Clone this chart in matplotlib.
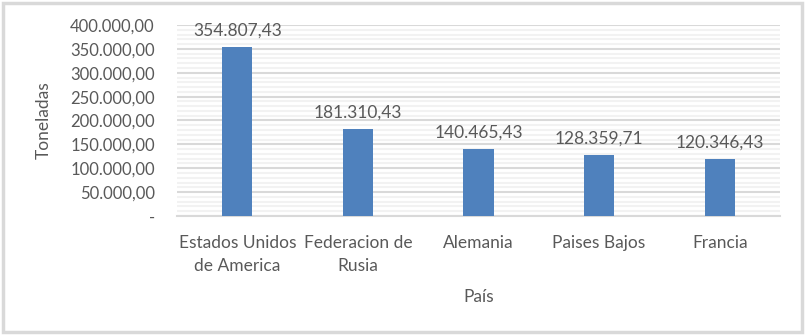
import matplotlib
matplotlib.use("Agg")
import matplotlib.pyplot as plt
from matplotlib.ticker import MultipleLocator, FuncFormatter
from matplotlib.patches import Rectangle

paises = ["Estados Unidos\nde America", "Federacion de\nRusia", "Alemania", "Paises Bajos", "Francia"]
toneladas = [354807.43, 181310.43, 140465.43, 128359.71, 120346.43]
etiquetas = ["354.807,43", "181.310,43", "140.465,43", "128.359,71", "120.346,43"]

plt.rcParams['font.family'] = ['Lato', 'DejaVu Sans']
txt = '#595959'

fig = plt.figure(figsize=(8.06, 3.35), dpi=100)
ax = fig.add_axes([177/806, 1 - 216/335, 603/806, 191/335])

x = list(range(len(paises)))
ax.bar(x, toneladas, width=0.25, color='#4F81BD', zorder=3)
for xi, v, lab in zip(x, toneladas, etiquetas):
    ax.annotate(lab, (xi, v), xytext=(0, 6), textcoords='offset points',
                ha='center', va='bottom', fontsize=12.5, color=txt)

ax.set_xlim(-0.5, len(paises) - 0.5)
ax.set_ylim(0, 400000)
ax.yaxis.set_major_locator(MultipleLocator(50000))
ax.yaxis.set_minor_locator(MultipleLocator(10000))

def fmt(v, pos):
    if v == 0:
        return "-"
    s = f"{v:,.2f}"
    return s.replace(",", "X").replace(".", ",").replace("X", ".")
ax.yaxis.set_major_formatter(FuncFormatter(fmt))

ax.grid(axis='y', which='major', color='#D9D9D9', linewidth=1.5, zorder=0)
ax.grid(axis='y', which='minor', color='#F2F2F2', linewidth=1.5, zorder=0)
for s in ['top', 'right', 'left']:
    ax.spines[s].set_visible(False)
ax.spines['bottom'].set_color('#D9D9D9')
ax.spines['bottom'].set_linewidth(1.5)

ax.set_xticks(x)
ax.set_xticklabels(paises, fontsize=12.5, color=txt, linespacing=1.5)
ax.tick_params(axis='x', length=0, pad=14)
ax.tick_params(axis='y', which='both', length=0, labelsize=12, labelcolor=txt, pad=16)

ax.set_ylabel("Toneladas", fontsize=12.5, color=txt, labelpad=13)
ax.set_xlabel("País", fontsize=12.5, color=txt, labelpad=11)

fig.patches.append(Rectangle((3/806, 3/335), 799/806, 329/335, transform=fig.transFigure,
                             fill=False, edgecolor='#D9D9D9', linewidth=2.5))

fig.savefig("out.png", dpi=100)
